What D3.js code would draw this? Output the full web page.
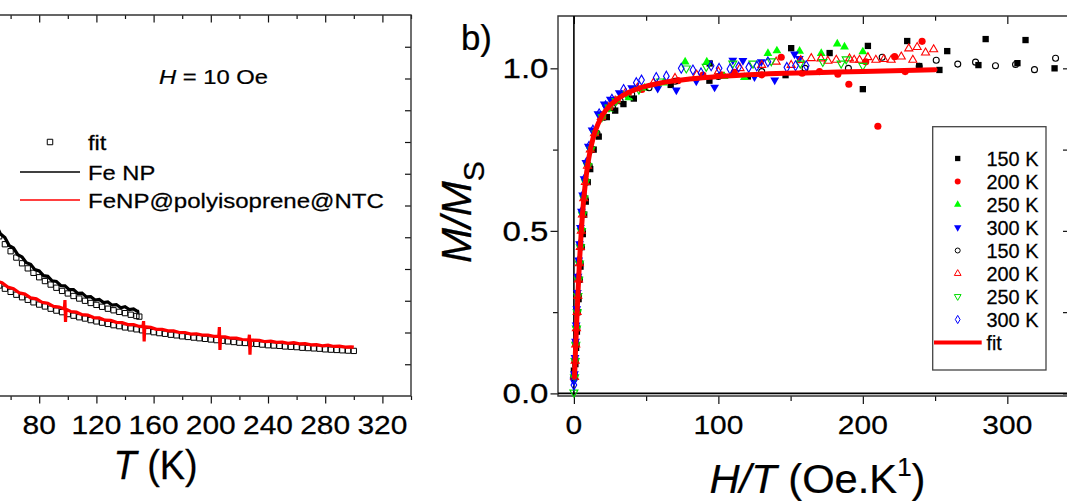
<!DOCTYPE html>
<html><head><meta charset="utf-8">
<script src="https://cdn.jsdelivr.net/npm/d3@7"></script>
<style>body{margin:0;background:#fff}svg{display:block}text{font-family:"Liberation Sans",Arial,sans-serif;stroke:#000;stroke-width:0.25px}</style>
</head><body>
<script>
// ---------- Panel (a): M vs T at H = 10 Oe (left axis values not visible, arbitrary units) ----------
const tTicks = [0, 40, 80, 120, 160, 200, 240, 280, 320];
const tMinor = [20, 60, 100, 140, 180, 220, 260, 300, 340];
const feNP = [[44,5.85],[47,5.52],[50,5.38],[53,5.10],[56,4.99],[59,4.74],[62,4.66],[65,4.45],[68,4.38],[71,4.20],[74,4.15],[77,3.98],[80,3.94],[83,3.79],[86,3.77],[89,3.63],[92,3.61],[95,3.48],[98,3.47],[101,3.35],[104,3.35],[107,3.23],[110,3.24],[113,3.12],[116,3.13],[119,3.02],[122,3.04],[125,2.94],[128,2.96],[131,2.86],[134,2.88],[137,2.78],[140,2.81],[143,2.72],[146,2.74],[149,2.66],[150,2.67]];
const feNPfit = [[44,5.65],[48,5.32],[52,5.03],[56,4.78],[60,4.56],[64,4.36],[68,4.18],[72,4.02],[76,3.88],[80,3.74],[84,3.62],[88,3.51],[92,3.41],[96,3.31],[100,3.23],[104,3.15],[108,3.07],[112,3.00],[116,2.93],[120,2.87],[124,2.81],[128,2.75],[132,2.70],[136,2.65],[140,2.61],[144,2.56],[148,2.52],[150,2.50]];
const feNPpoly = [[46,3.80],[50,3.62],[54,3.57],[58,3.43],[62,3.38],[66,3.25],[70,3.21],[74,3.09],[78,3.06],[82,2.95],[86,2.92],[90,2.82],[94,2.80],[97.6,2.74],[98,3.02],[98.4,2.33],[98.8,2.73],[102,2.66],[106,2.64],[110,2.56],[114,2.55],[118,2.47],[122,2.46],[126,2.39],[130,2.38],[134,2.32],[138,2.31],[142,2.25],[146,2.25],[150,2.19],[152.6,2.19],[153,2.36],[153.4,1.72],[153.8,2.18],[158,2.16],[162,2.10],[166,2.10],[170,2.05],[174,2.05],[178,2.00],[182,2.00],[186,1.95],[190,1.96],[194,1.92],[198,1.92],[202,1.88],[205.6,1.88],[206,2.17],[206.4,1.45],[206.8,1.87],[210,1.86],[214,1.82],[218,1.82],[222,1.78],[226.6,1.77],[227,1.93],[227.4,1.30],[227.8,1.76],[230,1.76],[234,1.75],[238,1.71],[242,1.73],[246,1.69],[250,1.70],[254,1.66],[258,1.68],[262,1.64],[266,1.65],[270,1.61],[274,1.62],[278,1.58],[282,1.60],[286,1.56],[290,1.57],[294,1.54],[298,1.55],[300,1.54]];
const feNPpolyFit = [[44,3.71],[48,3.59],[52,3.48],[56,3.38],[60,3.28],[64,3.19],[68,3.11],[72,3.03],[76,2.95],[80,2.88],[84,2.82],[88,2.75],[92,2.69],[96,2.64],[100,2.58],[104,2.53],[108,2.48],[112,2.44],[116,2.39],[120,2.35],[124,2.31],[128,2.27],[132,2.23],[136,2.20],[140,2.16],[144,2.13],[148,2.10],[152,2.07],[156,2.04],[160,2.01],[164,1.98],[168,1.96],[172,1.93],[176,1.91],[180,1.88],[184,1.86],[188,1.84],[192,1.82],[196,1.80],[200,1.78],[204,1.76],[208,1.74],[212,1.72],[216,1.70],[220,1.68],[224,1.67],[228,1.65],[232,1.64],[236,1.62],[240,1.60],[244,1.59],[248,1.58],[252,1.56],[256,1.55],[260,1.54],[264,1.52],[268,1.51],[272,1.50],[276,1.49],[280,1.47],[284,1.46],[288,1.45],[292,1.44],[296,1.43],[300,1.42]];
const legendA = ["fit", "Fe NP", "FeNP@polyisoprene@NTC"];

// ---------- Panel (b): M/Ms vs H/T ----------
const htTicks = [0, 100, 200, 300];
const htMinor = [50, 150, 250];
const msTicks = [0.0, 0.5, 1.0];
const msMinor = [0.25, 0.75];
const fitCurve = [[0.4,0.05],[1,0.12],[2,0.225],[3,0.325],[4,0.415],[5,0.49],[6,0.555],[8,0.65],[10,0.715],[12,0.762],[15,0.81],[20,0.857],[25,0.886],[30,0.905],[40,0.93],[50,0.945],[60,0.955],[80,0.967],[100,0.975],[130,0.982],[160,0.986],[200,0.99],[250,0.996]];
const np150 = [[0,0.07],[0.52,0.05],[1.03,0.09],[1.56,0.14],[2.1,0.19],[2.68,0.25],[3.25,0.29],[3.88,0.35],[4.56,0.39],[5.35,0.45],[6.17,0.49],[7.13,0.55],[8.23,0.59],[9.6,0.65],[11.3,0.69],[13.7,0.75],[17.2,0.79],[22.8,0.85],[28.6,0.87],[34.3,0.89],[41.5,0.907],[67,0.949],[93.8,0.962],[94,1.015],[120.4,0.975],[146.5,0.979],[150.4,1.062],[177,1.047],[200,0.936],[203.5,1.069],[230.7,1.084],[239,1.007],[253,0.995],[258.4,1.053],[280,1.01],[285,1.09],[307,1.016],[312.6,1.087],[332.7,1.0]];
const np200 = [[0.45,0.05],[0.9,0.10],[1.37,0.15],[1.84,0.20],[2.34,0.25],[2.85,0.30],[3.39,0.35],[3.99,0.40],[4.68,0.45],[5.4,0.50],[6.24,0.55],[7.2,0.60],[8.4,0.65],[9.9,0.70],[12,0.75],[15,0.80],[20,0.85],[25,0.88],[30,0.90],[37.5,0.92],[47,0.935],[58,0.95],[72,0.962],[89.3,0.979],[102.7,0.979],[111,0.988],[130,0.98],[143.5,1.034],[158,0.985],[170,0.99],[182.7,0.982],[190.3,0.951],[202,1.02],[210.4,0.822],[222,1.036],[229.3,0.99],[241,1.083]];
const np250 = [[0.44,0.06],[0.88,0.11],[1.35,0.16],[1.82,0.21],[2.3,0.26],[2.8,0.31],[3.35,0.36],[3.95,0.41],[4.6,0.46],[5.35,0.51],[6.2,0.56],[7.15,0.61],[8.3,0.66],[9.8,0.71],[11.9,0.76],[14.8,0.80],[19.6,0.85],[24.5,0.875],[29.5,0.9],[38,0.91],[49,0.94],[62,0.955],[77,1.02],[92,1.02],[104,0.975],[118,0.972],[134.3,1.046],[140.5,1.054],[156.2,1.053],[171.2,1.046],[182.3,1.075],[187.3,1.066],[200,1.051]];
const np300 = [[0,0.04],[0.38,0.06],[0.76,0.11],[1.14,0.16],[1.54,0.21],[1.96,0.26],[2.38,0.31],[2.84,0.36],[3.34,0.41],[3.92,0.46],[4.52,0.51],[5.23,0.56],[6.04,0.61],[7.04,0.66],[8.3,0.71],[10,0.76],[12.6,0.81],[16.7,0.86],[21,0.89],[25.2,0.905],[31.4,0.925],[40,0.94],[58,0.938],[70.9,0.933],[84.7,0.961],[97.4,0.942],[110,1.025],[117,1.024],[125,0.974],[129.7,1.02],[139,0.964],[152.7,1.044],[156,1.03]];
const lp150 = [[0,0.05],[0.48,0.05],[0.96,0.1],[1.46,0.15],[1.96,0.2],[2.5,0.25],[3.04,0.3],[3.62,0.35],[4.26,0.4],[5,0.45],[5.76,0.5],[6.65,0.55],[7.68,0.6],[8.96,0.65],[10.6,0.7],[12.8,0.75],[16,0.8],[21.3,0.85],[26.7,0.88],[32,0.9],[40,0.92],[52,0.94],[70,0.96],[100,0.975],[130,0.99],[160,1.0],[190,1.0],[213.4,1.034],[239,1.006],[250.8,1.025],[265.7,1.013],[278,1.019],[291.8,1.008],[305.7,1.012],[318.8,0.996],[333.4,1.031]];
const lp200 = [[0.43,0.05],[0.86,0.1],[1.3,0.15],[1.75,0.2],[2.23,0.25],[2.71,0.3],[3.23,0.35],[3.8,0.4],[4.46,0.45],[5.14,0.5],[5.94,0.55],[6.86,0.6],[8,0.65],[9.43,0.7],[11.4,0.75],[14.3,0.8],[19,0.85],[23.8,0.88],[28.6,0.9],[35.7,0.925],[44,0.94],[55,0.955],[70,0.97],[85,0.98],[100,0.99],[115,1.0],[130,1.01],[140,1.02],[150.4,1.01],[157,1.025],[164.3,1.031],[171,1.03],[175.8,1.023],[181.6,1.026],[190.8,1.03],[194,1.026],[197.7,1.026],[203.5,1.034],[209,1.026],[214.5,1.028],[219.6,1.026],[226.6,1.036],[231.8,1.061],[234.6,1.026],[237.6,1.065],[243.4,1.048],[249,1.058]];
const lp250 = [[0,0.003],[0.44,0.05],[0.88,0.1],[1.33,0.15],[1.79,0.2],[2.27,0.25],[2.76,0.3],[3.29,0.35],[3.88,0.4],[4.55,0.45],[5.24,0.5],[6.06,0.55],[7,0.6],[8.16,0.65],[9.62,0.7],[11.6,0.75],[14.6,0.8],[19.4,0.85],[24.3,0.88],[29.2,0.9],[36.4,0.92],[45,0.935],[60,0.96],[77.8,1.0],[91.6,1.005],[110,1.015],[124,1.015],[136.6,1.022],[156.7,1.015],[172.3,1.02],[185,1.015],[188.5,1.028],[200,1.008]];
const lp300 = [[0,0.026],[0,0.04],[0.4,0.06],[0.79,0.11],[1.2,0.16],[1.61,0.21],[2.05,0.26],[2.49,0.31],[2.97,0.36],[3.5,0.41],[4.1,0.46],[4.73,0.51],[5.46,0.56],[6.31,0.61],[7.36,0.66],[8.68,0.71],[10.5,0.76],[13.2,0.81],[17.5,0.86],[21.9,0.885],[26.3,0.905],[34.4,0.935],[43.2,0.956],[46.8,0.964],[57,0.972],[64,0.976],[74.3,1.0],[82.4,0.995],[88,0.986],[95,1.008],[100.5,1.0],[108,0.998],[114,1.004],[121,1.003],[126.6,1.007],[134.3,1.02],[147.4,1.003],[153.4,1.008],[160.8,1.008]];
const legendB = ["150 K", "200 K", "250 K", "300 K", "150 K", "200 K", "250 K", "300 K", "fit"];

// ---------- drawing ----------
const svg = d3.select("body").append("svg").attr("width", 1067).attr("height", 501);
svg.append("rect").attr("width", 1067).attr("height", 501).attr("fill", "#fff");

function label(parent, x, y, parts, o) {
  const g = parent.append("g").attr("transform", `translate(${x},${y})` + (o.rotate ? ` rotate(${o.rotate})` : ""));
  const t = g.append("text").attr("font-size", o.size).attr("fill", "#000");
  let cur = 0;
  parts.forEach(p => {
    if (typeof p === "string") p = { t: p };
    const s = t.append("tspan").text(p.t);
    if (p.i) s.attr("font-style", "italic");
    let target = 0;
    if (p.sup) { s.attr("font-size", o.size * 0.62); target = -o.size * 0.42; }
    if (p.sub) { s.attr("font-size", o.size * 0.72); target = o.size * 0.3; }
    if (target !== cur) { s.attr("dy", target - cur); cur = target; }
  });
  const w = t.node().getBBox().width;
  const sx = o.width ? o.width / w : (o.sx || 1);
  const shift = o.anchor === "middle" ? -w * sx / 2 : o.anchor === "end" ? -w * sx : 0;
  t.attr("transform", `translate(${shift},0) scale(${sx},1)`);
  return t;
}
function tickLines(g, axisFn, scale, vals, size) {
  g.call(axisFn(scale).tickValues(vals).tickSize(size).tickFormat(""));
  g.select(".domain").remove();
  g.selectAll(".tick line").attr("stroke", "#111").attr("stroke-width", 1.2);
}

// ===== Panel a =====
const xA = d3.scaleLinear().domain([-20, 340]).range([-103.8, 411]);
const yA = d3.scaleLinear().domain([0, 12]).range([396, 15]);
const gA = svg.append("g");
tickLines(gA.append("g").attr("transform", "translate(0,396)"), d3.axisBottom, xA, tTicks, 7.5);
tickLines(gA.append("g").attr("transform", "translate(0,396)"), d3.axisBottom, xA, tMinor, 4);
tickLines(gA.append("g").attr("transform", "translate(0,15)"), d3.axisTop, xA, tTicks, -7.5);
tickLines(gA.append("g").attr("transform", "translate(0,15)"), d3.axisTop, xA, tMinor, -4);
tickLines(gA.append("g").attr("transform", "translate(411,0)"), d3.axisRight, yA, d3.range(1, 12), -6);
gA.append("path").attr("d", "M-110,15H411V396H-110").attr("fill", "none").attr("stroke", "#333").attr("stroke-width", 1.4);

const lineA = d3.line().x(d => xA(d[0])).y(d => yA(d[1]));
const sq = d3.symbol().type(d3.symbolSquare).size(28);
[feNPfit, feNPpolyFit].forEach(arr => {
  gA.append("g").selectAll("path").data(arr).join("path")
    .attr("d", sq).attr("transform", d => `translate(${xA(d[0])},${yA(d[1])})`)
    .attr("fill", "none").attr("stroke", "#000").attr("stroke-width", 1);
});
gA.append("path").datum(feNP).attr("d", lineA).attr("fill", "none").attr("stroke", "#000").attr("stroke-width", 3.2);
gA.append("path").datum(feNPpoly).attr("d", lineA).attr("fill", "none").attr("stroke", "#ff0000").attr("stroke-width", 3.2);

// tick labels whose text lies inside the picture (0 and 40 fall left of the visible area)
tTicks.filter(v => xA(v) > 20).forEach(v => label(gA, xA(v), 434, [String(v)], { size: 26.5, anchor: "middle", sx: 1.13 }));
label(gA, (xA.range()[0] + xA.range()[1]) / 2 + 2, 479, [{ t: "T", i: true }, " (K)"], { size: 41, anchor: "middle", width: 84 });
label(gA, 159, 83.5, [{ t: "H", i: true }, " = 10 Oe"], { size: 20, width: 109 });

// legend a
gA.append("path").attr("d", d3.symbol().type(d3.symbolSquare).size(30)()).attr("transform", "translate(50,142)")
  .attr("fill", "none").attr("stroke", "#000").attr("stroke-width", 1);
gA.append("line").attr("x1", 20).attr("x2", 80).attr("y1", 172).attr("y2", 172).attr("stroke", "#000").attr("stroke-width", 1.3);
gA.append("line").attr("x1", 20).attr("x2", 80).attr("y1", 200).attr("y2", 200).attr("stroke", "#ff0000").attr("stroke-width", 1.3);
label(gA, 88, 150, [legendA[0]], { size: 21, sx: 1.13 });
label(gA, 88, 180, [legendA[1]], { size: 21, sx: 1.13 });
label(gA, 88, 208, [legendA[2]], { size: 21, width: 296 });

// ===== Panel b =====
const xB = d3.scaleLinear().domain([-11, 342]).range([558, 1068]);
const yB = d3.scaleLinear().domain([-0.008, 1.161]).range([396, 16]);
const gB = svg.append("g");
tickLines(gB.append("g").attr("transform", "translate(0,396)"), d3.axisBottom, xB, htTicks, 8);
tickLines(gB.append("g").attr("transform", "translate(0,396)"), d3.axisBottom, xB, htMinor, 5);
tickLines(gB.append("g").attr("transform", "translate(0,16)"), d3.axisTop, xB, htTicks, -8);
tickLines(gB.append("g").attr("transform", "translate(0,16)"), d3.axisTop, xB, htMinor, -4.7);
tickLines(gB.append("g").attr("transform", "translate(558,0)"), d3.axisLeft, yB, msTicks, 7.5);
tickLines(gB.append("g").attr("transform", "translate(558,0)"), d3.axisLeft, yB, msMinor, 5);
tickLines(gB.append("g").attr("transform", "translate(1068,0)"), d3.axisRight, yB, msTicks.concat(msMinor), -5);
gB.append("path").attr("d", "M1075,16H558V396H1075").attr("fill", "none").attr("stroke", "#333").attr("stroke-width", 1.4);
gB.append("line").attr("x1", xB(0)).attr("x2", xB(0)).attr("y1", 16).attr("y2", 396).attr("stroke", "#000").attr("stroke-width", 1.6);
gB.append("line").attr("x1", 558).attr("x2", 1068).attr("y1", yB(0)).attr("y2", yB(0)).attr("stroke", "#000").attr("stroke-width", 1.6);

const series = [
  { d: np150, type: d3.symbolSquare, size: 40, fill: "#000", stroke: "none", rot: 0 },
  { d: np200, type: d3.symbolCircle, size: 40, fill: "#ff0000", stroke: "none", rot: 0 },
  { d: np250, type: d3.symbolTriangle, size: 34, fill: "#00ff00", stroke: "none", rot: 0 },
  { d: np300, type: d3.symbolTriangle, size: 34, fill: "#0000ff", stroke: "none", rot: 180 },
  { d: lp150, type: d3.symbolCircle, size: 28, fill: "none", stroke: "#000", rot: 0 },
  { d: lp200, type: d3.symbolTriangle, size: 28, fill: "none", stroke: "#ff0000", rot: 0 },
  { d: lp250, type: d3.symbolTriangle, size: 28, fill: "none", stroke: "#00dd00", rot: 180 },
  { d: lp300, type: d3.symbolDiamond, size: 28, fill: "none", stroke: "#0000ff", rot: 0 }
];
series.forEach(s => {
  gB.append("g").selectAll("path").data(s.d).join("path")
    .attr("d", d3.symbol().type(s.type).size(s.size))
    .attr("transform", d => `translate(${xB(d[0])},${yB(d[1])}) rotate(${s.rot})`)
    .attr("fill", s.fill).attr("stroke", s.stroke).attr("stroke-width", 1.1);
});
gB.append("path").datum(fitCurve)
  .attr("d", d3.line().x(d => xB(d[0])).y(d => yB(d[1])).curve(d3.curveMonotoneX))
  .attr("fill", "none").attr("stroke", "#ff0000").attr("stroke-width", 5).attr("stroke-linecap", "round");

htTicks.forEach(v => label(gB, xB(v), 434, [String(v)], { size: 26.5, anchor: "middle", sx: 1.13 }));
msTicks.forEach(v => label(gB, 548.5, yB(v) + 10, [v.toFixed(1)], { size: 27.5, anchor: "end", width: 46 }));
label(gB, 817.5, 493, [{ t: "H/T", i: true }, " (Oe.K", { t: "1", sup: true }, ")"], { size: 41.5, anchor: "middle", width: 216 });
label(gB, 471, 263, [{ t: "M/M", i: true }, { t: "S", sub: true }], { size: 42, rotate: -90 });
label(gB, 461, 50, ["b)"], { size: 35, width: 31 });

// legend b
const lg = gB.append("g");
lg.append("rect").attr("x", 932.7).attr("y", 126.7).attr("width", 113.3).attr("height", 243.3)
  .attr("fill", "#fff").attr("stroke", "#444").attr("stroke-width", 1.3);
series.forEach((s, i) => {
  const cy = 158.5 + 23 * i;
  lg.append("path").attr("d", d3.symbol().type(s.type).size(s.size * 0.7)())
    .attr("transform", `translate(957.7,${cy}) rotate(${s.rot})`)
    .attr("fill", s.fill).attr("stroke", s.stroke).attr("stroke-width", 1);
  label(lg, 986.5, cy + 7, [legendB[i]], { size: 19.5, width: 52 });
});
const fy = 158.5 + 23 * 8;
lg.append("line").attr("x1", 934).attr("x2", 981.7).attr("y1", fy).attr("y2", fy).attr("stroke", "#ff0000").attr("stroke-width", 4);
label(lg, 986.5, fy + 7, [legendB[8]], { size: 19.5, sx: 1.0 });
</script>
</body></html>
